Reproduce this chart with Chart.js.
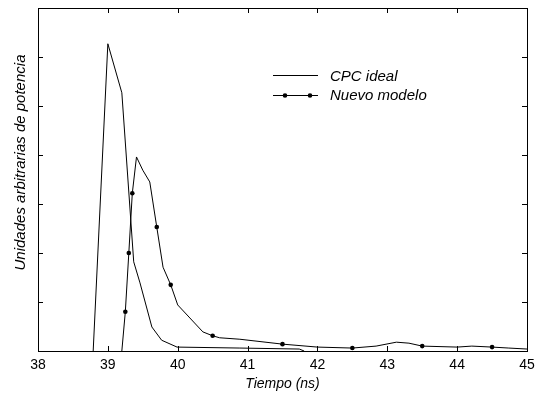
<!DOCTYPE html>
<html>
<head>
<meta charset="utf-8">
<script src="https://cdn.jsdelivr.net/npm/chart.js@4.4.1/dist/chart.umd.min.js"></script>
<style>
  * { margin: 0; padding: 0; box-sizing: border-box; }
  body { background: #fff; overflow: hidden; }
  #wrap { position: relative; width: 542px; height: 394px; }
</style>
</head>
<body>
<div id="wrap"><canvas id="chart"></canvas></div>
<script>
// datos
const cpcX = [38.79, 39.0, 39.2, 39.37, 39.46, 39.63, 39.77, 39.99, 40.89, 41.74, 41.81];
const cpcY = [0, 6.27, 5.27, 1.82, 1.39, 0.49, 0.22, 0.08, 0.06, 0.04, 0];

const nuevoX = [39.2, 39.25, 39.3, 39.35, 39.41, 39.5, 39.6, 39.7, 39.79, 39.9, 40.0, 40.36, 40.5, 40.6, 40.89,
  41.5, 42.0, 42.5, 42.84, 43.13, 43.31, 43.5, 44.0, 44.21, 44.5, 44.74, 45.0];
const nuevoY = [0, 0.8, 2.0, 3.22, 3.96, 3.69, 3.45, 2.53, 1.71, 1.35, 0.94, 0.39, 0.31, 0.27, 0.24,
  0.14, 0.08, 0.06, 0.1, 0.18, 0.16, 0.1, 0.08, 0.1, 0.08, 0.06, 0.04];
const nuevoMarks = [39.25, 39.3, 39.35, 39.7, 39.9, 40.5, 41.5, 42.5, 43.5, 44.5];

const xTicks = [38, 39, 40, 41, 42, 43, 44, 45];
const yTicks = [0, 1, 2, 3, 4, 5, 6, 7];

const seriesNames = ['CPC ideal', 'Nuevo modelo'];
const xTitle = 'Tiempo (ns)';
const yTitle = 'Unidades arbitrarias de potencia';

const FONT = '"Liberation Sans", Arial, sans-serif';

const toPoints = (xs, ys) => xs.map((x, i) => ({x, y: ys[i]}));

// marco, marcas hacia dentro, leyenda y título del eje y
const framePlugin = {
  id: 'frame',
  afterDraw(chart) {
    const {ctx, chartArea: a, scales} = chart;
    ctx.save();
    ctx.strokeStyle = '#000';
    ctx.lineWidth = 1;
    ctx.strokeRect(a.left + 0.5, a.top + 0.5, a.right - a.left, a.bottom - a.top);

    ctx.beginPath();
    xTicks.forEach(v => {
      const px = Math.round(scales.x.getPixelForValue(v)) + 0.5;
      ctx.moveTo(px, a.bottom); ctx.lineTo(px, a.bottom - 5);
      ctx.moveTo(px, a.top); ctx.lineTo(px, a.top + 5);
    });
    yTicks.forEach(v => {
      const py = Math.round(scales.y.getPixelForValue(v)) + 0.5;
      ctx.moveTo(a.left, py); ctx.lineTo(a.left + 5, py);
      ctx.moveTo(a.right, py); ctx.lineTo(a.right - 5, py);
    });
    ctx.stroke();

    // leyenda
    ctx.beginPath();
    ctx.moveTo(273, 75.5); ctx.lineTo(318, 75.5);
    ctx.moveTo(273, 95.5); ctx.lineTo(318, 95.5);
    ctx.stroke();
    ctx.fillStyle = '#000';
    [285, 310].forEach(mx => {
      ctx.beginPath();
      ctx.arc(mx, 95.5, 2.3, 0, Math.PI * 2);
      ctx.fill();
    });
    ctx.font = 'italic 15px ' + FONT;
    ctx.textAlign = 'left';
    ctx.textBaseline = 'alphabetic';
    ctx.fillText(seriesNames[0], 330, 81);
    ctx.fillText(seriesNames[1], 330, 100);

    // título del eje y
    ctx.translate(21, 162.5);
    ctx.rotate(-Math.PI / 2);
    ctx.textAlign = 'center';
    ctx.textBaseline = 'middle';
    ctx.fillText(yTitle, 0, 0);
    ctx.restore();
  }
};

new Chart(document.getElementById('chart'), {
  type: 'line',
  data: {
    datasets: [
      {
        label: seriesNames[0],
        data: toPoints(cpcX, cpcY),
        borderColor: '#000',
        borderWidth: 1,
        pointRadius: 0,
        tension: 0,
      },
      {
        label: seriesNames[1],
        data: toPoints(nuevoX, nuevoY),
        borderColor: '#000',
        backgroundColor: '#000',
        borderWidth: 1,
        pointRadius: c => (c.raw && nuevoMarks.includes(c.raw.x) ? 2.3 : 0),
        pointBorderWidth: 0,
        pointBackgroundColor: '#000',
        tension: 0,
      },
    ],
  },
  options: {
    responsive: true,
    maintainAspectRatio: false,
    animation: false,
    layout: {padding: {left: 0, top: 8, right: 15, bottom: 0}},
    plugins: {
      legend: {display: false},
      tooltip: {enabled: false},
    },
    scales: {
      x: {
        type: 'linear',
        min: 38,
        max: 45,
        afterBuildTicks: s => { s.ticks = xTicks.map(v => ({value: v})); },
        afterFit: s => { s.height = 43; },
        grid: {display: false},
        border: {display: false},
        ticks: {
          color: '#000',
          padding: -2,
          font: {family: FONT, size: 14},
          maxRotation: 0,
        },
        title: {
          display: true,
          text: xTitle,
          color: '#000',
          font: {family: FONT, size: 14, style: 'italic'},
          padding: {top: 0, bottom: 1},
        },
      },
      y: {
        min: 0,
        max: 7,
        afterBuildTicks: s => { s.ticks = yTicks.map(v => ({value: v})); },
        afterFit: s => { s.width = 38; },
        grid: {display: false},
        border: {display: false},
        ticks: {display: false},
      },
    },
  },
  plugins: [framePlugin],
});
</script>
</body>
</html>
